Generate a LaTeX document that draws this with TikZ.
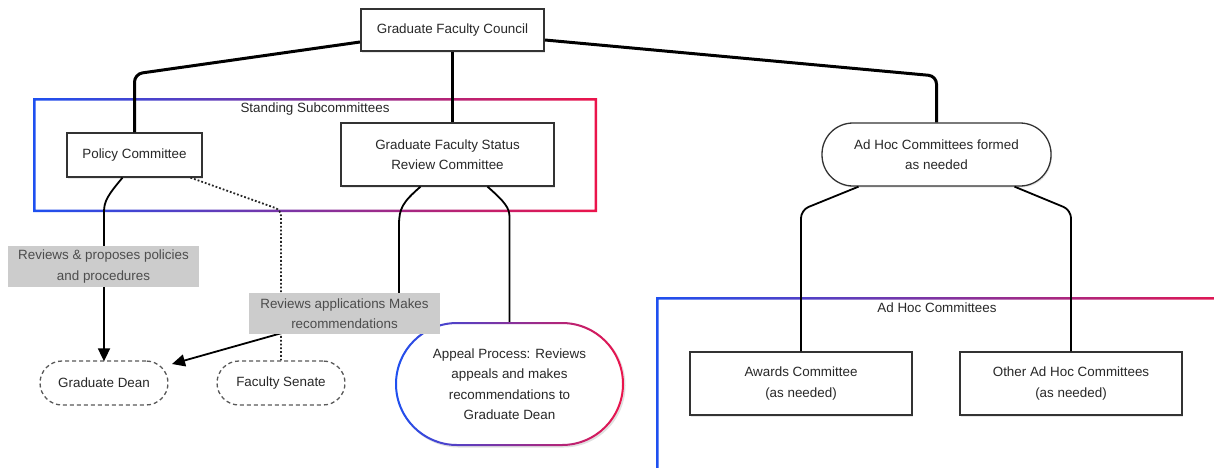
\documentclass[tikz,border=0pt]{standalone}
\usepackage{fontspec}
\setmainfont{Liberation Sans}
\usetikzlibrary{arrows.meta,calc,shadows}
\definecolor{blu}{RGB}{30,80,240}
\definecolor{rd}{RGB}{235,20,75}
\definecolor{txt}{RGB}{40,40,40}
\definecolor{lab}{RGB}{204,204,204}
\newcommand{\fs}{\fontsize{13.4}{20.5}\selectfont}
\tikzset{
  box/.style={draw=black!80, line width=1.3pt, fill=white, text=txt, font=\fs, align=center, inner sep=0pt,
     drop shadow={shadow xshift=1pt, shadow yshift=-1.5pt, opacity=0.18}},
  pill/.style={box, rounded corners=31pt},
  dpill/.style={draw=black!65, line width=1.3pt, dash pattern=on 4pt off 3pt, fill=white, text=txt, font=\fs,
     align=center, inner sep=0pt, rounded corners=22pt, minimum width=128pt, minimum height=44pt},
  lbl/.style={fill=lab, text=black!70, font=\fs, align=center, inner sep=0pt, minimum width=191pt, minimum height=41pt},
  thk/.style={line width=3pt, black, rounded corners=8pt},
  con/.style={line width=1.8pt, black, rounded corners=8pt},
  dot/.style={line width=1.8pt, black!85, dotted, rounded corners=6pt},
  arr/.style={-{Triangle[length=13pt,width=12pt]}},
  frametxt/.style={text=txt, font=\fs, inner sep=0pt},
}
\begin{document}
\begin{tikzpicture}[x=1pt,y=-1pt]
\clip (0,0) rectangle (1214,467);
\fill[white] (0,0) rectangle (1214,467);
% frames
\shade[left color=blu, right color=rd, even odd rule] (33,98) rectangle (597,212) (35.5,100.5) rectangle (594.5,209.5);
\node[frametxt] (sslab) at (315,109) {Standing Subcommittees};
\shade[left color=blu, right color=rd, even odd rule] (656,297) rectangle (1250,520) (658.5,299.5) rectangle (1247.5,517.5);
\node[frametxt] (ahlab) at (937,308) {Ad Hoc Committees};
% nodes
\node[box, line width=2pt, minimum width=183pt, minimum height=42pt] (gfc) at (452.5,30) {Graduate Faculty Council};
\node[box, minimum width=135pt, minimum height=44pt] (policy) at (134.5,155) {Policy Committee};
\node[box, minimum width=213pt, minimum height=63pt] (gfsrc) at (447.5,154.5) {Graduate Faculty Status\\Review Committee};
\node[pill, minimum width=229pt, minimum height=63pt] (adhoc) at (936.5,154.5) {Ad Hoc Committees formed\\as needed};
\node[dpill] (dean) at (104,383) {Graduate Dean};
\node[dpill] (fs) at (281,383) {Faculty Senate};
\node[box, minimum width=222pt, minimum height=63pt] (awards) at (801,383.5) {Awards Committee\\(as needed)};
\node[box, minimum width=222pt, minimum height=63pt] (other) at (1071,383.5) {Other Ad Hoc Committees\\(as needed)};
% appeal pill with gradient border
\fill[black, opacity=0.12, rounded corners=62pt] (396.5,323.5) rectangle (625.5,447.5);
\fill[white, rounded corners=62pt] (395,322) rectangle (624,446);
\shade[left color=blu, right color=rd, even odd rule] [rounded corners=62pt] (395,322) rectangle (624,446) [rounded corners=60pt] (397,324) rectangle (622,444);
\node[text=txt, font=\fs, align=center, inner sep=0pt, minimum width=229pt, minimum height=124pt] (appeal) at (509.5,384) {Appeal Process: Reviews\\appeals and makes\\recommendations to\\Graduate Dean};
% connectors
\draw[thk] ([yshift=-12pt]gfc.west) -- (policy.north |- 0,74) -- (policy.north);
\draw[thk] (gfc.south) -- (gfc.south |- gfsrc.north);
\draw[thk] ([yshift=-10pt]gfc.east) -- (adhoc.north |- 0,76) -- (adhoc.north);
\draw[con, arr] ([xshift=-12pt]policy.south) .. controls (108,195) and (104,201) .. (104,220) -- ([yshift=-1pt]dean.north);
\node[lbl] (l1) at (103.5,266.5) {Reviews \& proposes policies\\and procedures};
\draw[dot] ([xshift=56pt]policy.south) -- (281,210) -- (fs.north);
\coordinate (deantip) at (172,364);
\draw[con, arr, rounded corners=0pt] ([xshift=-27pt]gfsrc.south) .. controls (403,202) and (399,208) .. (399,225) -- (399,300) -- (deantip);
\node[lbl] (l2) at (344.5,313.5) {Reviews applications Makes\\recommendations};
\draw[con] ([xshift=40pt]gfsrc.south) .. controls (505,202) and (509.5,208) .. (509.5,225) -- (appeal.north);
\draw[con] ([xshift=-78pt]adhoc.south) -- (801,210) -- (awards.north);
\draw[con] ([xshift=78pt]adhoc.south) -- (1071,210) -- (other.north);
\end{tikzpicture}
\end{document}
